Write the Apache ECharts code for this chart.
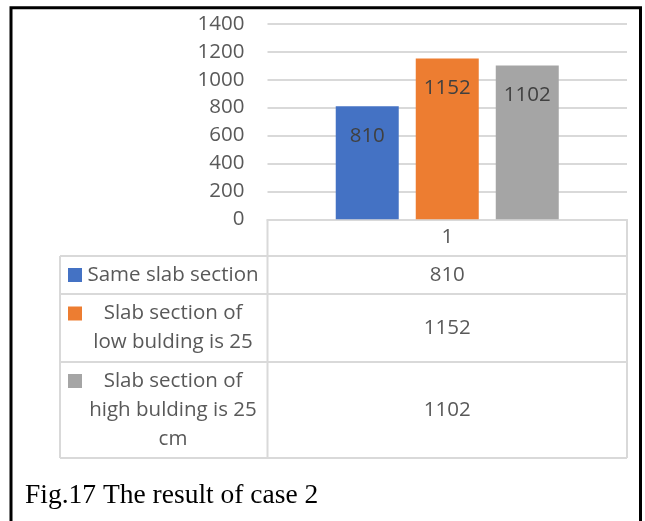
<!DOCTYPE html>
<html>
<head>
<meta charset="utf-8">
<script src="https://cdn.jsdelivr.net/npm/echarts@6/dist/echarts.min.js"></script>
<style>
  html, body { margin: 0; padding: 0; background: #ffffff; }
  #chart { width: 645px; height: 521px; }
</style>
</head>
<body>
<div id="chart"></div>
<script>
// Chart data
const categories = ['1'];
const seriesNames = [
  'Same slab section',
  'Slab section of\nlow bulding is 25',
  'Slab section of\nhigh bulding is 25\ncm'
];
const seriesValues = [[810], [1152], [1102]];
const seriesColors = ['#4472C4', '#ED7D31', '#A5A5A5'];
const yTicks = { min: 0, max: 1400, interval: 200 };
const caption = 'Fig.17 The result of case 2';

// Layout
const W = 645, H = 521;
const plot = { left: 267.5, right: 627, top: 23.8, bottom: 219.3 };
const table = { left: 60, rowLines: [256, 294, 362, 458], legendCenterX: 173, markX: 68, markSize: 14 };
const lineColor = '#d9d9d9';
const sansFont = '"Open Sans", Lato, sans-serif';
const sansSize = 20.5;
const textGray = '#595959';

const chart = echarts.init(document.getElementById('chart'), null, { renderer: 'canvas' });

const series = seriesNames.map((name, i) => ({
  name: name,
  type: 'bar',
  data: seriesValues[i],
  barWidth: 63,
  barGap: '27%',
  itemStyle: { color: seriesColors[i] },
  label: {
    show: true,
    position: 'insideTop',
    distance: 19,
    fontFamily: sansFont,
    fontSize: sansSize,
    color: '#404040'
  },
  emphasis: { disabled: true },
  silent: true
}));

// Data table under the plot: lines, legend keys and values
const graphics = [];
const tableBottom = table.rowLines[table.rowLines.length - 1];
function hLine(x1, x2, y) {
  graphics.push({ type: 'line', shape: { x1, y1: y, x2, y2: y }, style: { stroke: lineColor, lineWidth: 2 }, silent: true });
}
function vLine(x, y1, y2) {
  graphics.push({ type: 'line', shape: { x1: x, y1, x2: x, y2 }, style: { stroke: lineColor, lineWidth: 2 }, silent: true });
}
table.rowLines.forEach(y => hLine(table.left, plot.right, y));
vLine(table.left, table.rowLines[0], tableBottom);
vLine(plot.left, plot.bottom, tableBottom);
vLine(plot.right, plot.bottom, tableBottom);

seriesNames.forEach((name, i) => {
  const top = table.rowLines[i], bottom = table.rowLines[i + 1];
  const mid = (top + bottom) / 2;
  const lines = name.split('\n');
  const lh = 29;
  const firstLineY = mid - (lines.length - 1) * lh / 2;
  graphics.push({
    type: 'rect',
    shape: { x: table.markX, y: firstLineY - table.markSize / 2, width: table.markSize, height: table.markSize },
    style: { fill: seriesColors[i] },
    silent: true
  });
  lines.forEach((ln, k) => {
    graphics.push({
      type: 'text',
      style: {
        text: ln, x: table.legendCenterX, y: firstLineY + k * lh,
        align: 'center', verticalAlign: 'middle',
        font: sansSize + 'px ' + sansFont, fill: textGray
      },
      silent: true
    });
  });
  graphics.push({
    type: 'text',
    style: {
      text: String(seriesValues[i][0]), x: (plot.left + plot.right) / 2, y: mid,
      align: 'center', verticalAlign: 'middle',
      font: sansSize + 'px ' + sansFont, fill: textGray
    },
    silent: true
  });
});

// Figure frame and caption
graphics.push({
  type: 'rect',
  shape: { x: 11, y: 7.8, width: 629.5, height: H + 20 },
  style: { fill: 'none', stroke: '#000000', lineWidth: 3 },
  silent: true
});
graphics.push({
  type: 'text',
  style: {
    text: caption, x: 25, y: 496,
    align: 'left', verticalAlign: 'middle',
    font: '27.5px "Liberation Serif", "DejaVu Serif", serif', fill: '#000000'
  },
  silent: true
});

chart.setOption({
  animation: false,
  backgroundColor: '#ffffff',
  grid: {
    left: plot.left, right: W - plot.right, top: plot.top, bottom: H - plot.bottom,
    containLabel: false
  },
  xAxis: {
    type: 'category',
    data: categories,
    axisLine: { show: true, lineStyle: { color: lineColor, width: 2 } },
    axisTick: { show: false },
    axisLabel: { margin: 7, fontFamily: sansFont, fontSize: sansSize, color: textGray },
    splitLine: { show: false }
  },
  yAxis: {
    type: 'value',
    min: yTicks.min, max: yTicks.max, interval: yTicks.interval,
    axisLine: { show: false },
    axisTick: { show: false },
    axisLabel: {
      margin: 23, fontFamily: sansFont, fontSize: sansSize, color: textGray,
      formatter: v => String(v)
    },
    splitLine: { lineStyle: { color: lineColor, width: 2 } }
  },
  series: series,
  graphic: graphics
});
</script>
</body>
</html>
